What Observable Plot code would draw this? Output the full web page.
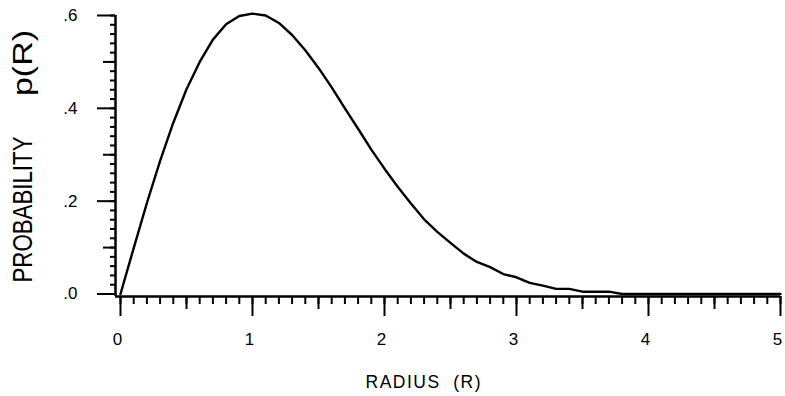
<!DOCTYPE html>
<html>
<head>
<meta charset="utf-8">
<script src="https://cdn.jsdelivr.net/npm/d3@7"></script>
<script src="https://cdn.jsdelivr.net/npm/@observablehq/plot@0.6"></script>
<style>
  html, body { margin: 0; padding: 0; background: #fff; }
</style>
</head>
<body>
<div id="chart"></div>
<script>
// Data
const radius = [0.0,0.1,0.2,0.3,0.4,0.5,0.6,0.7,0.8,0.9,1.0,1.1,1.2,1.3,1.4,1.5,1.6,1.7,1.8,1.9,2.0,2.1,2.2,2.3,2.4,2.5,2.6,2.7,2.8,2.9,3.0,3.1,3.2,3.3,3.4,3.5,3.6,3.7,3.8,3.9,4.0,4.1,4.2,4.3,4.4,4.5,4.6,4.7,4.8,4.9,5.0];
const probability = [0.000,0.099,0.196,0.287,0.369,0.441,0.500,0.548,0.581,0.599,0.604,0.600,0.584,0.558,0.525,0.487,0.445,0.400,0.356,0.311,0.270,0.231,0.195,0.161,0.134,0.110,0.087,0.069,0.058,0.043,0.036,0.024,0.018,0.011,0.011,0.005,0.005,0.005,0.000,0.000,0.000,0.000,0.000,0.000,0.000,0.000,0.000,0.000,0.000,0.000,0.000];

const xMajor = [0, 1, 2, 3, 4, 5];
const xTickLabels = ["0", "1", "2", "3", "4", "5"];
const xMid = [0.5, 1.5, 2.5, 3.5, 4.5];
const xMinor = d3.range(0, 50.5, 1).map(d => d / 10);

const yMajor = [0, 0.2, 0.4, 0.6];
const yTickLabels = [".0", ".2", ".4", ".6"];
const yMid = [0.1, 0.3, 0.5];
const yMinor = d3.range(0, 30.5, 1).map(d => d / 50);

const xLabel = "RADIUS  (R)";
const yLabelA = "PROBABILITY";
const yLabelB = "p(R)";

const data = radius.map((r, i) => ({r, p: probability[i]}));

const fmt = (ticks, labels) => d => labels[ticks.findIndex(v => Math.abs(v - d) < 1e-9)];

const chart = Plot.plot({
  width: 785,
  height: 396,
  marginLeft: 115,
  marginRight: 5,
  marginTop: 15,
  marginBottom: 100,
  insetLeft: 5,
  insetBottom: 2.5,
  x: {domain: [0, 5]},
  y: {domain: [0, 0.6]},
  style: {fontFamily: "'Liberation Sans', Arial, sans-serif", fontSize: "17px", color: "#000", background: "#fff"},
  marks: [
    // minor / mid / major ticks on y
    Plot.axisY(yMinor, {anchor: "left", tickSize: 5, strokeWidth: 2, fill: "none", label: null}),
    Plot.axisY(yMid, {anchor: "left", tickSize: 12, strokeWidth: 2, fill: "none", label: null}),
    Plot.axisY(yMajor, {anchor: "left", tickSize: 18, strokeWidth: 2, tickPadding: 20, tickFormat: fmt(yMajor, yTickLabels), label: null, fontSize: 17}),
    // minor / mid / major ticks on x
    Plot.axisX(xMinor, {anchor: "bottom", tickSize: 8, strokeWidth: 2, fill: "none", label: null}),
    Plot.axisX(xMid, {anchor: "bottom", tickSize: 13, strokeWidth: 2, fill: "none", label: null}),
    Plot.axisX(xMajor, {anchor: "bottom", tickSize: 20, strokeWidth: 2, fill: "none", label: null}),
    Plot.axisX(xMajor, {anchor: "bottom", tickSize: 20, stroke: "none", tickPadding: 16, dx: -3, tickFormat: fmt(xMajor, xTickLabels), label: null, fontSize: 17}),
    // axis lines
    Plot.ruleY([0], {dy: 2.5, strokeWidth: 2.5}),
    Plot.ruleX([0], {dx: -5, strokeWidth: 2.5}),
    // curve
    Plot.line(data, {x: "r", y: "p", stroke: "#000", strokeWidth: 2.4}),
    // axis titles
    Plot.text([xLabel], {frameAnchor: "bottom", dx: -25, dy: 86, lineAnchor: "middle", fontSize: 17.5, text: d => d}),
    Plot.text([yLabelA], {frameAnchor: "left", dx: -92, dy: 53.5, rotate: -90, lineAnchor: "middle", textAnchor: "middle", fontSize: 28, text: d => d}),
    Plot.text([yLabelB], {frameAnchor: "left", dx: -92, dy: -93, rotate: -90, lineAnchor: "middle", textAnchor: "middle", fontSize: 28, text: d => d})
  ]
});

document.getElementById("chart").appendChild(chart);

// fine-tune title text widths
const svg = d3.select(chart);
svg.selectAll("text").each(function() {
  const t = this.textContent;
  if (t === xLabel) { this.setAttribute("textLength", 115); this.setAttribute("lengthAdjust", "spacing"); this.style.whiteSpace = "pre"; }
  if (t === yLabelA) { this.setAttribute("textLength", 146); this.setAttribute("lengthAdjust", "spacingAndGlyphs"); }
  if (t === yLabelB) { this.setAttribute("textLength", 66); this.setAttribute("lengthAdjust", "spacingAndGlyphs"); }
});
</script>
</body>
</html>
